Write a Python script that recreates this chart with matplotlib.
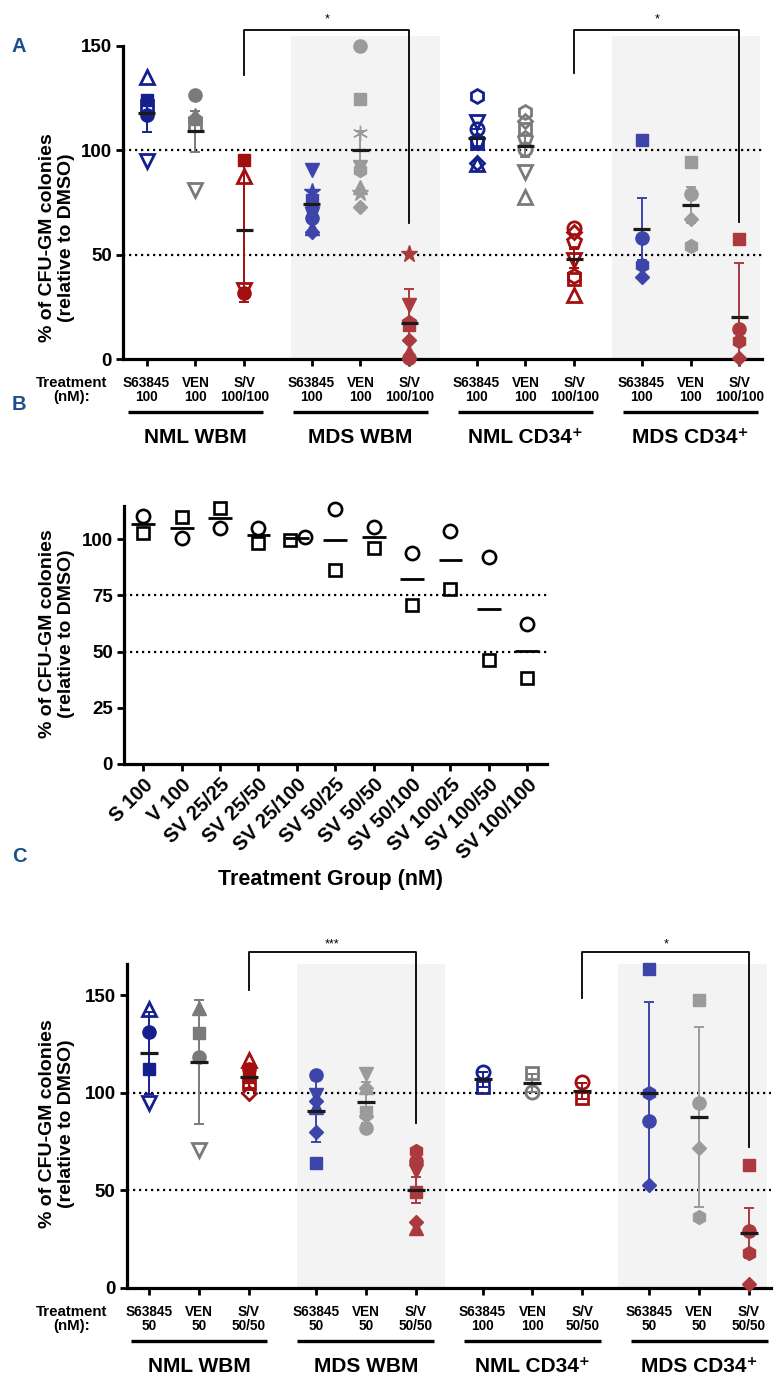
import numpy as np
import matplotlib
matplotlib.use("Agg")
import matplotlib.pyplot as plt
from matplotlib import font_manager as fm
from matplotlib import transforms as mtrans

# ---------------- DATA ----------------
GROUPS = ["NML WBM", "MDS WBM", "NML CD34\u207a", "MDS CD34\u207a"]
TREAT_A = [["S63845\n100", "VEN\n100", "S/V\n100/100"]] * 4
TREAT_C = [["S63845\n50", "VEN\n50", "S/V\n50/50"],
           ["S63845\n50", "VEN\n50", "S/V\n50/50"],
           ["S63845\n100", "VEN\n100", "S/V\n50/50"],
           ["S63845\n50", "VEN\n50", "S/V\n50/50"]]

# Panel A (100 nM)
A_NML_WBM_S = [135, 124, 121, 117, 95]
A_NML_WBM_V = [126.5, 117, 115, 112, 81]
A_NML_WBM_SV = [95.5, 87.5, 33, 31.5]
A_MDS_WBM_S = [90.6, 80.2, 76, 72, 67.5, 63, 61]
A_MDS_WBM_V = [150, 124.6, 108.1, 92, 90.6, 82.3, 79.7, 73]
A_MDS_WBM_SV = [50.3, 25.9, 17.9, 16.3, 9.1, 3.5, 0.3]
A_NML_CD34_S = [126.2, 113.7, 110.2, 105, 103.3, 94, 93.3]
A_NML_CD34_V = [118.5, 114.2, 110, 105.7, 100.6, 89.8, 77.8]
A_NML_CD34_SV = [62.9, 61, 56.7, 47.4, 39.8, 38.2, 30.7]
A_MDS_CD34_S = [105, 57.8, 45, 39.4]
A_MDS_CD34_V = [94.6, 78.9, 67.1, 54.1]
A_MDS_CD34_SV = [57.5, 14.4, 8.8, 0.5]
A_MEANS = [117.7, 109.2, 61.8, 74.1, 100.1, 17.4, 105.7, 102.0, 48.0, 62.1, 73.8, 20.0]
A_ERRS = [8.8, 9.8, 34.3, 3.5, 9.2, 16.0, 4.5, 5.3, 4.5, 14.9, 8.8, 25.8]

# Panel B
B_LABELS = ["S 100", "V 100", "SV 25/25", "SV 25/50", "SV 25/100", "SV 50/25",
            "SV 50/50", "SV 50/100", "SV 100/25", "SV 100/50", "SV 100/100"]
B_CIRCLE = [110.5, 100.7, 105.1, 105.1, 101.1, 113.3, 105.6, 93.7, 103.8, 91.9, 62.3]
B_SQUARE = [102.9, 109.7, 113.7, 98.5, 99.6, 86.3, 96.2, 70.7, 77.7, 46.3, 38.1]

# Panel C (50 nM)
C_NML_WBM_S = [142.7, 131.2, 112, 94.9]
C_NML_WBM_V = [143.2, 130.7, 118.4, 70.7]
C_NML_WBM_SV = [116.7, 112, 108, 104.8, 99.7]
C_MDS_WBM_S = [109, 98.8, 96, 92.8, 80, 64]
C_MDS_WBM_V = [109.4, 103.1, 102.4, 90.3, 88, 81.8]
C_MDS_WBM_SV = [70, 65, 60, 49, 33.8, 30.7]
C_NML_CD34_S = [110.8, 103.1]
C_NML_CD34_V = [109.9, 100.5]
C_NML_CD34_SV = [105.6, 97.1]
C_MDS_CD34_S = [163.2, 100, 85.7, 52.7]
C_MDS_CD34_V = [147.5, 94.6, 71.8, 36.5]
C_MDS_CD34_SV = [63, 29.3, 18.1, 2]
C_MEANS = [120.2, 115.9, 108.2, 90.6, 95.1, 50.0, 106.9, 105.1, 101.0, 100.0, 87.7, 28.3]
C_ERRS = [21.0, 31.8, 6.0, 15.7, 10.5, 6.6, 3.8, 4.7, 4.2, 46.3, 46.0, 12.8]

# ---------------- STYLE ----------------
A_SERIES = [A_NML_WBM_S, A_NML_WBM_V, A_NML_WBM_SV, A_MDS_WBM_S, A_MDS_WBM_V, A_MDS_WBM_SV,
            A_NML_CD34_S, A_NML_CD34_V, A_NML_CD34_SV, A_MDS_CD34_S, A_MDS_CD34_V, A_MDS_CD34_SV]
A_MK = ["^ssov", "o^psv", "s^vo", "v*spo^D", "osavh^*D", "*vpsD^o",
        "hvopsD^", "hDspov^", "oDpvhs^", "sohD", "soDh", "sohD"]
A_FL = ["01010", "11100", "1001", "1111111", "11111111", "1111111",
        "0000000", "0000000", "0000000", "1111", "1111", "1111"]

C_SERIES = [C_NML_WBM_S, C_NML_WBM_V, C_NML_WBM_SV, C_MDS_WBM_S, C_MDS_WBM_V, C_MDS_WBM_SV,
            C_NML_CD34_S, C_NML_CD34_V, C_NML_CD34_SV, C_MDS_CD34_S, C_MDS_CD34_V, C_MDS_CD34_SV]
C_MK = ["^osv", "^sov", "^ossD", "ovD^Ds", "v^DsDo", "hovsD^",
        "os", "so", "os", "shoD", "soDh", "sohD"]
C_FL = ["0110", "1110", "01100", "111111", "111111", "111111",
        "00", "00", "00", "1111", "1111", "1111"]

MKMAP = {"^": "^", "v": "v", "s": "s", "o": "o", "p": "p", "h": "h", "D": "D", "*": "*",
         "a": (6, 2, 0)}
MSMAP = {"^": 10, "v": 10, "s": 9, "o": 9.5, "p": 10, "h": 10, "D": 7.5, "*": 12.5, "a": 11}

COL_NML = ["#15208f", "#7a7a7a", "#a30e0e"]
COL_MDS = ["#3d45aa", "#9b9b9b", "#ab3a3f"]
SHADE = "#f3f3f3"
LABEL_BLUE = "#1c4f8c"


def has_font(name):
    try:
        fm.findfont(fm.FontProperties(family=name), fallback_to_default=False)
        return True
    except Exception:
        return False


if has_font("Liberation Sans Narrow"):
    NARROW = ["Liberation Sans Narrow", "DejaVu Sans"]
    TICK_FS, TREAT_FS = 11.5, 12.5
else:
    NARROW = ["Liberation Sans", "DejaVu Sans"]
    TICK_FS, TREAT_FS = 9.8, 10.8

plt.rcParams["font.family"] = ["Liberation Sans", "DejaVu Sans"]
plt.rcParams["font.weight"] = "bold"

W, H = 782, 1384
fig = plt.figure(figsize=(W / 100, H / 100), dpi=100)


def fx(px):
    return px / W


def fy(px):
    return 1 - px / H


def style_axis(ax, yticks, spine_top=None):
    for s in ["top", "right"]:
        ax.spines[s].set_visible(False)
    for s in ["left", "bottom"]:
        ax.spines[s].set_linewidth(2.3)
    if spine_top is not None:
        ax.spines["left"].set_bounds(0, spine_top)
    ax.set_yticks(yticks)
    ax.tick_params(axis="both", direction="out", length=5, width=2.0, pad=3)
    for lab in ax.get_yticklabels():
        lab.set_fontsize(13.5)
        lab.set_fontweight("bold")


def dotted(ax, ys):
    for y in ys:
        ax.axhline(y, color="black", lw=1.6, ls=(0, (1, 1.7)), zorder=2)


def scatter_panel(ax, period, series, means, errs, mk, fl, treat, shades, brackets):
    positions = [g * period + i for g in range(4) for i in range(3)]
    for (g, lo, hi) in shades:
        c = g * period + 1
        ax.axvspan(c + lo, c + hi, color=SHADE, lw=0, zorder=0)
    for k, (x, vals) in enumerate(zip(positions, series)):
        g, i = divmod(k, 3)
        col = (COL_NML if g % 2 == 0 else COL_MDS)[i]
        ax.errorbar([x], [means[k]], yerr=[errs[k]], fmt="none", ecolor=col,
                    elinewidth=1.4, capsize=3.5, capthick=1.4, zorder=3)
        for v, m, f in zip(vals, mk[k], fl[k]):
            filled = f == "1"
            ax.plot([x], [v], ls="none", marker=MKMAP[m], ms=MSMAP[m],
                    mfc=col if filled else "none", mec=col,
                    mew=1.0 if filled else 2.0, zorder=4, clip_on=False)
        ax.hlines(means[k], x - 0.18, x + 0.18, color="#1a1a1a", lw=2.3, zorder=5)
    ax.set_xticks(positions)
    ax.set_xticklabels([])
    for k, x in enumerate(positions):
        g, i = divmod(k, 3)
        ax.annotate(treat[g][i], xy=(x, 0), xycoords=("data", "axes fraction"),
                    xytext=(0, -22.2), textcoords="offset points", ha="center",
                    va="center", fontsize=TICK_FS, family=NARROW, fontweight="bold",
                    linespacing=1.05, annotation_clip=False)
    off = mtrans.offset_copy(ax.get_xaxis_transform(), fig=fig, y=-38.4, units="points")
    for g in range(4):
        c = g * period + 1
        ax.plot([c - 1.37, c + 1.37], [0, 0], color="black", lw=2.4,
                transform=off, clip_on=False, solid_capstyle="butt")
        ax.annotate(GROUPS[g], xy=(c, 0), xycoords=("data", "axes fraction"),
                    xytext=(0, -56.4), textcoords="offset points", ha="center",
                    va="center", fontsize=15, fontweight="bold",
                    family=["Liberation Sans", "DejaVu Sans"], annotation_clip=False)
    for (gl, gr, yl, yr, top, txt, ty) in brackets:
        xl = gl * period + 2
        xr = gr * period + 2
        ax.plot([xl, xl, xr, xr], [yl, top, top, yr], color="black", lw=1.3,
                clip_on=False, zorder=6)
        ax.text((xl + xr) / 2, ty, txt, ha="center", va="center", fontsize=9,
                fontweight="normal", clip_on=False)
    return positions


# ---------------- Panel A ----------------
axA = fig.add_axes([fx(123), fy(359), fx(639), 323.5 / H])
axA.set_facecolor("none")
PER_A = 3.37
axA.set_xlim(-0.48, 3 * PER_A + 2 + 0.46)
axA.set_ylim(0, 155)
style_axis(axA, [0, 50, 100, 150], spine_top=150)
dotted(axA, [50, 100])
scatter_panel(axA, PER_A, A_SERIES, A_MEANS, A_ERRS, A_MK, A_FL, TREAT_A,
              shades=[(1, -1.41, 1.62), (3, -1.60, 1.42)],
              brackets=[(0, 1, 136, 65, 157.6, "*", 162.5),
                        (2, 3, 137, 65.7, 157.6, "*", 162.5)])

# ---------------- Panel B ----------------
axB = fig.add_axes([fx(124), fy(764), fx(422.5), 258.5 / H])
axB.set_xlim(-0.5, 10.5)
axB.set_ylim(0, 115)
style_axis(axB, [0, 25, 50, 75, 100])
dotted(axB, [50, 75])
xb = np.arange(len(B_LABELS), dtype=float)
jit_c = np.zeros_like(xb)
jit_s = np.zeros_like(xb)
jit_c[4], jit_s[4] = 0.2, -0.17
axB.plot(xb + jit_s, B_SQUARE, ls="none", marker="s", ms=9, mfc="none", mec="black",
         mew=1.9, zorder=4, clip_on=False)
axB.plot(xb + jit_c, B_CIRCLE, ls="none", marker="o", ms=9.5, mfc="none", mec="black",
         mew=1.9, zorder=4, clip_on=False)
B_MEAN = (np.array(B_CIRCLE) + np.array(B_SQUARE)) / 2
axB.hlines(B_MEAN, xb - 0.31, xb + 0.31, color="black", lw=2.0, zorder=3)
axB.set_xticks(xb)
axB.set_xticklabels(B_LABELS, rotation=45, ha="right", rotation_mode="anchor",
                    fontsize=14.5, fontweight="bold")
fig.text(fx(330), fy(880), "Treatment Group (nM)", ha="center", va="center",
         fontsize=15.5, fontweight="bold")

# ---------------- Panel C ----------------
axC = fig.add_axes([fx(126.7), fy(1288), fx(643.8), 324.2 / H])
axC.set_facecolor("none")
PER_C = 3.34
axC.set_xlim(-0.45, 3 * PER_C + 2 + 0.43)
axC.set_ylim(0, 166)
style_axis(axC, [0, 50, 100, 150])
dotted(axC, [50, 100])
scatter_panel(axC, PER_C, C_SERIES, C_MEANS, C_ERRS, C_MK, C_FL, TREAT_C,
              shades=[(1, -1.37, 1.59), (3, -1.62, 1.35)],
              brackets=[(0, 1, 152.6, 84.3, 172.2, "***", 175.8),
                        (2, 3, 148.3, 72.3, 172.2, "*", 175.8)])

# ---------------- shared text ----------------
YLAB = "% of CFU-GM colonies\n(relative to DMSO)"
for ycen in (238, 634, 1124):
    fig.text(fx(57), fy(ycen), YLAB, rotation=90, ha="center", va="center",
             fontsize=14, fontweight="bold", linespacing=1.1)
for yc in (390, 1319):
    fig.text(fx(72), fy(yc), "Treatment\n(nM):", ha="center", va="center",
             fontsize=TREAT_FS, family=NARROW, fontweight="bold", linespacing=1.05)
for lab, yc in (("A", 47), ("B", 404), ("C", 856)):
    fig.text(fx(19), fy(yc), lab, ha="center", va="center", fontsize=14.5,
             fontweight="bold", color=LABEL_BLUE)

fig.savefig("out.png", dpi=100)
